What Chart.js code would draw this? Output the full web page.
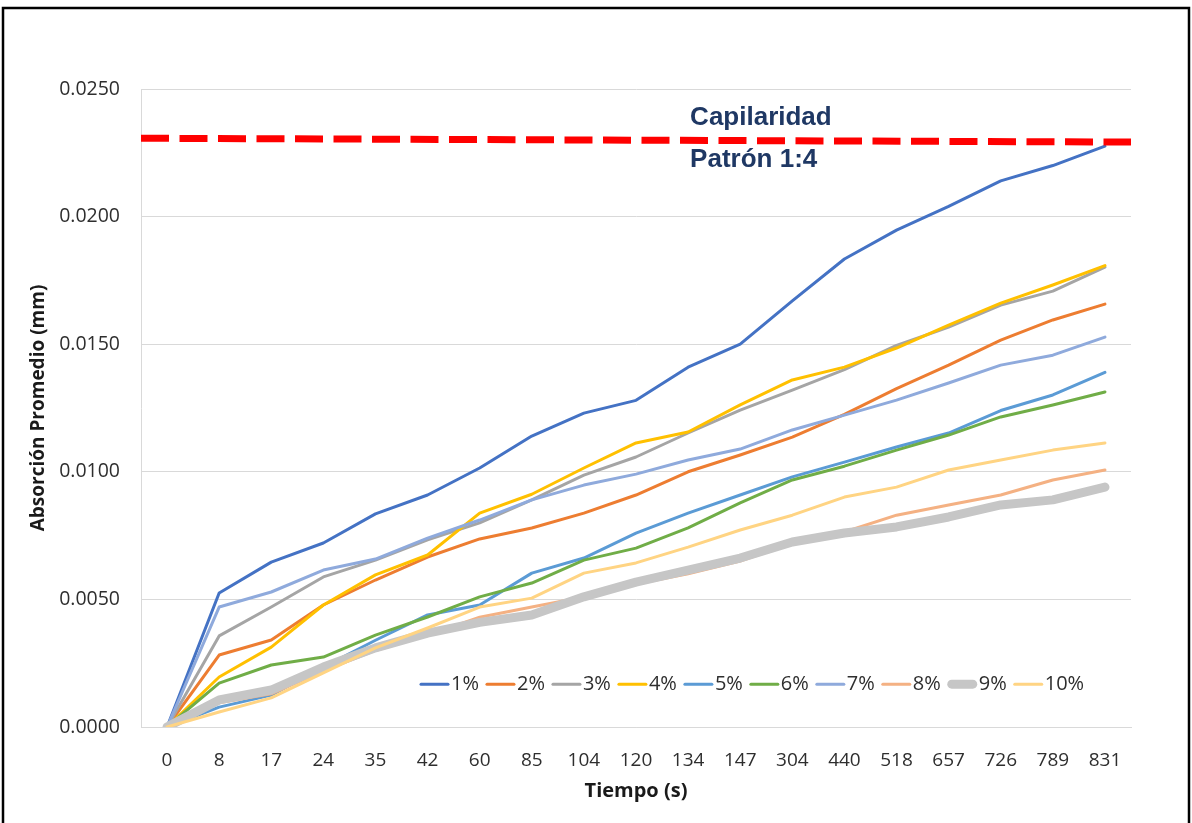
<!DOCTYPE html>
<html>
<head>
<meta charset="utf-8">
<title>Absorción Promedio</title>
<script src="https://cdn.jsdelivr.net/npm/chart.js@4.4.1/dist/chart.umd.min.js"></script>
<style>
  html, body { margin: 0; padding: 0; background: #fff; }
  canvas { display: block; }
</style>
</head>
<body>
<canvas id="c" width="1192" height="823"></canvas>
<script>
// Tiempo (s)
const tiempos = ['0','8','17','24','35','42','60','85','104','120','134','147','304','440','518','657','726','789','831'];

// Absorción promedio (mm) por porcentaje
const s1  = [0, 0.00525, 0.00646, 0.00721, 0.00835, 0.00909, 0.01015, 0.0114, 0.0123, 0.0128, 0.0141, 0.0150, 0.0167, 0.01834, 0.01947, 0.0204, 0.0214, 0.0220, 0.02276];
const s2  = [0, 0.00282, 0.00341, 0.00478, 0.00576, 0.00666, 0.00737, 0.0078, 0.00838, 0.00909, 0.0100, 0.01066, 0.01136, 0.01225, 0.01326, 0.01418, 0.01516, 0.01595, 0.01657];
const s3  = [0, 0.00357, 0.0047, 0.00588, 0.00654, 0.00733, 0.0080, 0.0089, 0.00987, 0.01058, 0.01152, 0.01242, 0.0132, 0.0140, 0.01495, 0.01567, 0.01653, 0.01708, 0.01802];
const s4  = [0, 0.00196, 0.00313, 0.00478, 0.00596, 0.00674, 0.00838, 0.00912, 0.01015, 0.01113, 0.01156, 0.01262, 0.0136, 0.0141, 0.01485, 0.01575, 0.01661, 0.01732, 0.01808];
const s5  = [0, 0.00078, 0.00125, 0.00235, 0.0034, 0.00439, 0.00478, 0.00603, 0.00662, 0.0076, 0.00838, 0.00909, 0.0098, 0.01038, 0.01097, 0.01152, 0.0124, 0.01301, 0.0139];
const s6  = [0, 0.00172, 0.00243, 0.00274, 0.0036, 0.00431, 0.0051, 0.00564, 0.00654, 0.00701, 0.0078, 0.00878, 0.00968, 0.01022, 0.01085, 0.01144, 0.01215, 0.01262, 0.01313];
const s7  = [0, 0.0047, 0.00529, 0.00615, 0.00658, 0.0074, 0.00811, 0.0089, 0.00948, 0.00991, 0.01046, 0.01089, 0.01164, 0.01222, 0.01281, 0.01348, 0.01418, 0.01457, 0.01528];
const s8  = [0, 0.00095, 0.0013, 0.0022, 0.003, 0.0036, 0.0043, 0.0047, 0.0051, 0.0056, 0.0060, 0.0065, 0.0072, 0.00764, 0.0083, 0.0087, 0.00909, 0.00968, 0.01007];
const s9  = [0, 0.00106, 0.00145, 0.00235, 0.0031, 0.00368, 0.0041, 0.00439, 0.0051, 0.00568, 0.00615, 0.00662, 0.00725, 0.0076, 0.00784, 0.00823, 0.0087, 0.0089, 0.0094];
const s10 = [0, 0.00059, 0.00114, 0.00212, 0.0031, 0.00388, 0.0047, 0.00505, 0.00603, 0.00643, 0.00705, 0.00772, 0.0083, 0.00901, 0.0094, 0.01007, 0.01046, 0.01085, 0.01113];

const etiquetas = ['1%','2%','3%','4%','5%','6%','7%','8%','9%','10%'];
const series = [s1, s2, s3, s4, s5, s6, s7, s8, s9, s10];
const colores = ['#4472c4','#ed7d31','#a5a5a5','#ffc000','#5b9bd5','#70ad47','#8faadc','#f4b183','#c6c6c6','#ffd483'];
const grosores = [3, 3, 3, 3, 3, 3, 3, 3, 9, 3];

// Nivel de capilaridad del patrón 1:4 (inicio y fin de la franja)
const capilaridad = [0.02307, 0.02292];
const capTexto = ['Capilaridad', 'Patrón 1:4'];
const capTextoY = [0.02386, 0.02222];

// Eje Y
const yMin = 0, yMax = 0.025, yPaso = 0.005;

const FONT = "'Open Sans', 'Liberation Sans', sans-serif";
const TEXTO = '#2e2e2e';

const marco = {
  id: 'marco',
  beforeDraw(chart) {
    const ctx = chart.ctx;
    ctx.save();
    ctx.fillStyle = '#ffffff';
    ctx.fillRect(0, 0, chart.width, chart.height);
    ctx.strokeStyle = '#000000';
    ctx.lineWidth = 2.5;
    ctx.strokeRect(3, 8, chart.width - 6, chart.height + 20);
    ctx.restore();
  }
};

const lineaCapilaridad = {
  id: 'lineaCapilaridad',
  afterDatasetsDraw(chart) {
    const { ctx, chartArea, scales } = chart;
    const y0 = scales.y.getPixelForValue(capilaridad[0]);
    const y1 = scales.y.getPixelForValue(capilaridad[1]);
    ctx.save();
    ctx.strokeStyle = '#ff0000';
    ctx.lineWidth = 7;
    ctx.setLineDash([28, 10.5]);
    ctx.lineCap = 'butt';
    ctx.beginPath();
    ctx.moveTo(chartArea.left, y0);
    ctx.lineTo(chartArea.right, y1);
    ctx.stroke();
    ctx.setLineDash([]);
    ctx.fillStyle = '#1f3864';
    ctx.font = "bold 26px 'Liberation Sans', Arial, sans-serif";
    ctx.textBaseline = 'middle';
    ctx.textAlign = 'left';
    const x = scales.x.getPixelForValue(10) + 2;
    ctx.fillText(capTexto[0], x, scales.y.getPixelForValue(capTextoY[0]));
    ctx.fillText(capTexto[1], x, scales.y.getPixelForValue(capTextoY[1]));
    ctx.restore();
  }
};

const leyenda = {
  id: 'leyenda',
  afterDraw(chart) {
    const { ctx, chartArea, scales } = chart;
    ctx.save();
    ctx.font = '20px ' + FONT;
    ctx.textBaseline = 'middle';
    ctx.textAlign = 'left';
    let x = chartArea.left + 279;
    const y = scales.y.getPixelForValue(0.00168);
    etiquetas.forEach((lab, i) => {
      const len = 29;
      ctx.strokeStyle = colores[i];
      ctx.lineWidth = grosores[i];
      ctx.lineCap = 'round';
      ctx.beginPath();
      const pad = grosores[i] > 3 ? 4 : 1;
      ctx.moveTo(x + pad, y);
      ctx.lineTo(x + len - pad, y);
      ctx.stroke();
      ctx.fillStyle = TEXTO;
      ctx.fillText(lab, x + len + 2, y);
      x += len + 2 + ctx.measureText(lab).width + 7;
    });
    ctx.restore();
  }
};

const datasets = series.map((d, i) => ({
  label: etiquetas[i],
  data: d,
  borderColor: colores[i],
  backgroundColor: colores[i],
  borderWidth: grosores[i],
  pointRadius: 0,
  pointHoverRadius: 0,
  tension: 0,
  fill: false,
  borderCapStyle: 'round',
  borderJoinStyle: 'round',
  order: series.length - i
}));

new Chart(document.getElementById('c'), {
  type: 'line',
  data: { labels: tiempos, datasets },
  options: {
    responsive: false,
    animation: false,
    devicePixelRatio: 1,
    layout: { padding: { left: 0, top: 89, right: 61, bottom: 0 } },
    plugins: {
      legend: { display: false },
      tooltip: { enabled: false }
    },
    scales: {
      x: {
        offset: true,
        grid: { display: false, drawTicks: false },
        border: { display: true, color: '#d9d9d9', width: 1 },
        ticks: { color: TEXTO, font: { family: FONT, size: 19 }, padding: 22, maxRotation: 0, autoSkip: false },
        title: { display: true, text: 'Tiempo (s)', color: '#1a1a1a', font: { family: FONT, size: 20, weight: 'bold' }, padding: { top: 0, bottom: 20 } },
        afterFit(scale) { scale.height = 96; }
      },
      y: {
        min: yMin,
        max: yMax,
        grid: { color: '#d9d9d9', lineWidth: 1, drawTicks: false },
        border: { display: true, color: '#d9d9d9', width: 1 },
        ticks: {
          stepSize: yPaso,
          color: TEXTO,
          font: { family: FONT, size: 19.5 },
          padding: 21,
          callback: v => Number(v).toFixed(4)
        },
        title: { display: true, text: 'Absorción Promedio (mm)', color: '#1a1a1a', font: { family: FONT, size: 19, weight: 'bold' }, padding: { top: 27, bottom: 0 } },
        afterFit(scale) { scale.width = 141; }
      }
    }
  },
  plugins: [marco, lineaCapilaridad, leyenda]
});
</script>
</body>
</html>
